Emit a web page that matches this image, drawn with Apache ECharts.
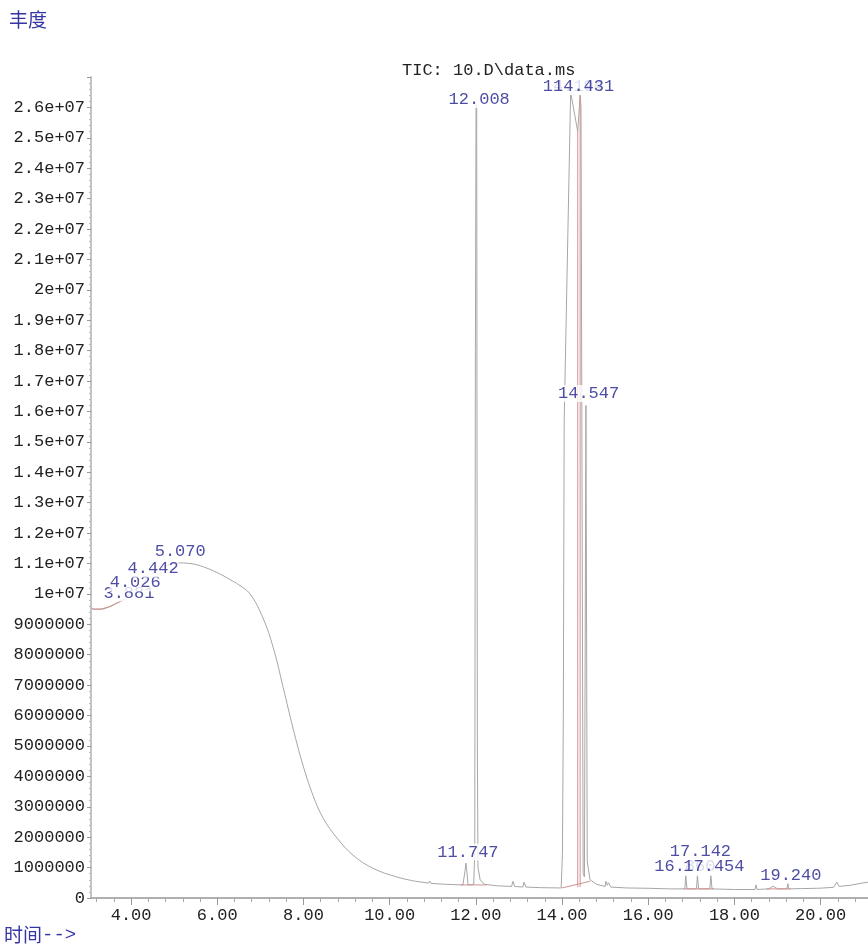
<!DOCTYPE html>
<html><head><meta charset="utf-8">
<script src="https://cdn.jsdelivr.net/npm/echarts@6/dist/echarts.min.js"></script>
<style>html,body{margin:0;padding:0;background:#fff}#c{width:868px;height:945px}</style>
</head><body><div id="c"></div>
<script>
// retention time (min)
const ticTime = [3.07,3.15,3.3,3.5,3.7,3.88,4.03,4.2,4.44,4.7,5.07,5.37,5.7,6.07,6.3,6.5,6.76,7.06,7.3,7.53,7.76,7.99,8.22,8.46,8.78,9.15,9.61,10.17,10.6,10.9,10.93,10.96,11.3,11.7,11.75,11.77,11.79,11.82,11.95,11.975,11.99,12.005,12.02,12.035,12.05,12.1,12.2,12.5,12.83,12.86,12.9,13.09,13.12,13.16,13.5,13.98,14.01,14.03,14.05,14.2,14.365,14.42,14.44,14.49,14.52,14.555,14.585,14.65,14.8,15.0,15.02,15.05,15.08,15.13,15.5,16.0,16.5,16.85,16.87,16.9,17.12,17.142,17.17,17.43,17.454,17.48,18.0,18.48,18.5,18.53,18.8,18.9,19.0,19.22,19.24,19.26,19.55,19.57,19.6,19.9,19.92,19.95,20.3,20.38,20.43,20.7,21.0,21.1];
// abundance
const ticAbund = [9.55e6,9.50e6,9.50e6,9.58e6,9.72e6,9.85e6,10.1e6,10.3e6,10.6e6,10.85e6,11.02e6,11.0e6,10.88e6,10.65e6,10.47e6,10.3e6,10.0e6,9.21e6,8.23e6,6.92e6,5.57e6,4.36e6,3.38e6,2.62e6,1.97e6,1.41e6,0.98e6,0.69e6,0.55e6,0.49e6,0.56e6,0.48e6,0.45e6,0.43e6,0.9e6,1.15e6,0.9e6,0.43e6,0.45e6,1.5e6,18e6,26.1e6,26.0e6,5.0e6,1.0e6,0.6e6,0.45e6,0.4e6,0.38e6,0.55e6,0.38e6,0.36e6,0.52e6,0.36e6,0.34e6,0.33e6,1.5e6,6.0e6,15.7e6,26.5e6,25.2e6,26.4e6,26.0e6,0.8e6,0.7e6,16.2e6,1.2e6,0.6e6,0.45e6,0.38e6,0.55e6,0.42e6,0.5e6,0.36e6,0.33e6,0.32e6,0.3e6,0.3e6,0.75e6,0.3e6,0.3e6,0.75e6,0.3e6,0.3e6,0.75e6,0.3e6,0.28e6,0.28e6,0.43e6,0.28e6,0.3e6,0.39e6,0.3e6,0.3e6,0.49e6,0.3e6,0.31e6,0.36e6,0.31e6,0.32e6,0.37e6,0.32e6,0.35e6,0.52e6,0.38e6,0.42e6,0.5e6,0.52e6];
// the broad solvent hump is drawn smoothed up to this time
const smoothUntil = 10.6;
// integration marks (null = break)
const intTime  = [3.1,3.3,3.5,3.7,3.82,null,11.65,12.25,null,14.0,14.65,null,14.365,14.365,null,14.42,14.42,null,16.82,17.52,null,18.75,19.3];
const intAbund = [9.5e6,9.5e6,9.58e6,9.72e6,9.8e6,null,0.43e6,0.43e6,null,0.33e6,0.55e6,null,0.35e6,25.2e6,null,0.36e6,26.4e6,null,0.3e6,0.3e6,null,0.3e6,0.3e6];
// peak labels (text, anchor time, anchor abundance)
const peakText  = ["3.881","4.026","4.442","5.070","11.747","12.008","14.194","14.431","14.547","16.860","17.142","17.454","19.240"];
const peakLabX  = [3.881,4.026,4.442,5.070,11.747,12.008,14.194,14.431,14.547,16.78,17.142,17.454,19.240];
const peakLabY  = [10.03e6,10.36e6,10.82e6,11.41e6,1.51e6,26.26e6,26.69e6,26.69e6,16.59e6,1.02e6,1.54e6,1.02e6,0.75e6];
// ticks
const xTickValues = [4,6,8,10,12,14,16,18,20];
const xMinorValues = [3.2,3.6,4.4,4.8,5.2,5.6,6.4,6.8,7.2,7.6,8.4,8.8,9.2,9.6,10.4,10.8,11.2,11.6,12.4,12.8,13.2,13.6,14.4,14.8,15.2,15.6,16.4,16.8,17.2,17.6,18.4,18.8,19.2,19.6,20.4,20.8];
const yTickLabels = ["0","1000000","2000000","3000000","4000000","5000000","6000000","7000000","8000000","9000000","1e+07","1.1e+07","1.2e+07","1.3e+07","1.4e+07","1.5e+07","1.6e+07","1.7e+07","1.8e+07","1.9e+07","2e+07","2.1e+07","2.2e+07","2.3e+07","2.4e+07","2.5e+07","2.6e+07",""];

const FONT = "Liberation Mono";
const LABEL_BLUE = '#20208c';
const ticData = ticTime.map((t,i)=>[t,ticAbund[i]]);
const humpData = ticData.filter(d=>d[0]<=smoothUntil);
const restData = ticData.filter(d=>d[0]>=smoothUntil);
const intData = intTime.map((t,i)=> t===null ? ['-','-'] : [t,intAbund[i]]);

const labelSeries = peakText.map((txt,i)=>({
  type:'scatter', xAxisIndex:0, yAxisIndex:0, z: 10+i,
  symbolSize: 1, itemStyle:{color:'rgba(0,0,0,0)'}, silent:true,
  data:[[peakLabX[i], peakLabY[i]]],
  label:{show:true, position:'inside', offset:[3,0], formatter: txt,
    fontFamily:FONT, fontSize:17, color:LABEL_BLUE, backgroundColor:'#ffffff',
    padding:[1,0,0,0], lineHeight:16}
}));

const chart = echarts.init(document.getElementById('c'), null, {renderer:'canvas'});
chart.setOption({
  animation:false,
  backgroundColor:'#ffffff',
  title:{text:'TIC: 10.D\\data.ms', left:397, top:57,
    textStyle:{fontFamily:FONT, fontSize:17, fontWeight:'normal', color:'#222'}},
  graphic:[
    {type:'text', left:9, top:10, style:{text:'丰度', font:'19px "Noto Sans CJK SC"', fill:'#3535a5'}},
    {type:'text', left:4, top:925, style:{
      text:'{a|时间}{b|-->}',
      rich:{a:{fontFamily:'Noto Sans CJK SC', fontSize:19, fill:'#3535a5', color:'#3535a5'},
            b:{fontFamily:FONT, fontSize:19, fill:'#3535a5', color:'#3535a5'}}}}
  ],
  grid:{left:91, right:0, top:77, bottom:47, containLabel:false},
  xAxis:[{
    type:'value', min:3.07, max:21.1, position:'bottom',
    axisLine:{show:true, lineStyle:{color:'#b0b0b0', width:2}},
    axisTick:{show:true, length:7, customValues:xTickValues, lineStyle:{color:'#999'}},
    axisLabel:{show:true, customValues:xTickValues, margin:9, fontFamily:FONT, fontSize:17, color:'#222',
      formatter:(v)=>v.toFixed(2)},
    splitLine:{show:false}
  },{
    type:'value', min:3.07, max:21.1, position:'bottom', gridIndex:0,
    axisLine:{show:false},
    axisTick:{show:true, length:4, customValues:xMinorValues, lineStyle:{color:'#aaa'}},
    axisLabel:{show:false}, splitLine:{show:false}
  }],
  yAxis:{
    type:'value', min:0, max:27e6, interval:1e6,
    axisLine:{show:true, lineStyle:{color:'#b0b0b0', width:1.5}},
    axisTick:{show:true, length:4, lineStyle:{color:'#999'}},
    minorTick:{show:true, splitNumber:5, length:2, lineStyle:{color:'#bbb'}},
    axisLabel:{margin:6, showMaxLabel:false, fontFamily:FONT, fontSize:17, color:'#222',
      formatter:(v)=>yTickLabels[Math.round(v/1e6)]},
    splitLine:{show:false}
  },
  series:[
    {type:'line', data:humpData, showSymbol:false, symbol:'none', z:3, smooth:0.4,
      lineStyle:{color:'#a6a6a6', width:1}, silent:true},
    {type:'line', data:restData, showSymbol:false, symbol:'none', z:3,
      lineStyle:{color:'#a6a6a6', width:1}, silent:true},
    {type:'line', data:intData, showSymbol:false, symbol:'none', z:4, connectNulls:false,
      lineStyle:{color:'#d09090', width:1}, silent:true}
  ].concat(labelSeries)
});
</script></body></html>
